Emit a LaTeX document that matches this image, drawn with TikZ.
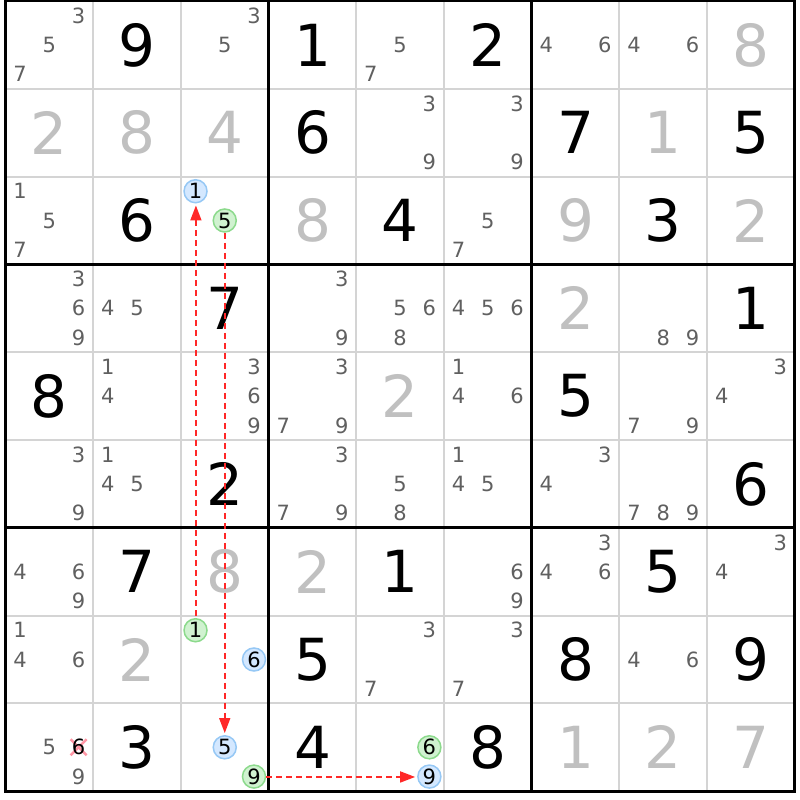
\documentclass[tikz,border=0pt]{standalone}
\usepackage{fontspec}
\setmainfont{DejaVu Sans}
\usetikzlibrary{arrows.meta}
\definecolor{candc}{RGB}{96,96,96}
\definecolor{solvedc}{RGB}{192,192,192}
\definecolor{thinc}{RGB}{212,212,212}
\definecolor{bluef}{RGB}{212,232,255}
\definecolor{blued}{RGB}{150,200,245}
\definecolor{greenf}{RGB}{208,242,208}
\definecolor{greend}{RGB}{140,218,140}
\definecolor{arrc}{RGB}{255,40,40}
\definecolor{crossc}{RGB}{255,150,165}
\newcommand\sdkPos[3]{%
  \pgfmathsetmacro\xx{5.5+87.7*(#2-1)+87.7*(2*mod(#3-1,3)+1)/6}%
  \pgfmathsetmacro\yy{1+87.8*(#1-1)+87.8*(2*floor((#3-1)/3)+1)/6}}
\newcommand\sdkCands[3]{\foreach \k in {#3}{\sdkPos{#1}{#2}{\k}\node[cand] (c#1#2\k) at (\xx,\yy) {\k};}}
\newcommand\sdkGiven[3]{\node[given] (g#1#2) at ({5.5+87.7*(#2-0.5)},{1+87.8*(#1-0.5)}) {#3};}
\newcommand\sdkSolved[3]{\node[given,text=solvedc] (s#1#2) at ({5.5+87.7*(#2-0.5)},{1+87.8*(#1-0.5)}) {#3};}
\newcommand\sdkCirc[5]{\sdkPos{#1}{#2}{#3}\node[cand,circ,#4] (#5) at (\xx,\yy) {#3};}
\begin{document}
\begin{tikzpicture}[x=1pt,y=-1pt,
  cand/.style={font=\fontsize{21}{21}\selectfont,text=candc,inner sep=0pt},
  given/.style={font=\fontsize{58}{58}\selectfont,text=black,inner sep=0pt},
  circ/.style={circle,inner sep=0pt,minimum size=23pt,line width=1.5pt,text=black},
  bluec/.style={fill=bluef,draw=blued},
  greenc/.style={fill=greenf,draw=greend},
  thinline/.style={draw=thinc,line width=2pt},
  thickline/.style={draw=black,line width=3pt},
  arrline/.style={color=arrc,line width=1.7pt,dash pattern=on 6pt off 4pt},
  arr/.style={arrline,-{Triangle[length=15pt,width=11pt]},shorten >=2pt},
  arrback/.style={arrline,{Triangle[length=15pt,width=11pt]}-,shorten <=2pt},
  crossln/.style={draw=crossc,line width=2.5pt}]
\useasboundingbox (0,0) rectangle (800,800);
\fill[white] (0,0) rectangle (800,800);
% grid
\foreach \i in {1,2,4,5,7,8}{
  \draw[thinline] ({5.5+87.7*\i},1) -- ({5.5+87.7*\i},791.2);
  \draw[thinline] (5.5,{1+87.8*\i}) -- (794.8,{1+87.8*\i});
}
\foreach \i in {3,6}{
  \draw[thickline] ({5.5+87.7*\i},1) -- ({5.5+87.7*\i},791.2);
  \draw[thickline] (5.5,{1+87.8*\i}) -- (794.8,{1+87.8*\i});
}
\draw[thickline] (5.5,1) rectangle (794.8,791.2);
% given digits
\sdkGiven{1}{2}{9}\sdkGiven{1}{4}{1}\sdkGiven{1}{6}{2}
\sdkGiven{2}{4}{6}\sdkGiven{2}{7}{7}\sdkGiven{2}{9}{5}
\sdkGiven{3}{2}{6}\sdkGiven{3}{5}{4}\sdkGiven{3}{8}{3}
\sdkGiven{4}{3}{7}\sdkGiven{4}{9}{1}
\sdkGiven{5}{1}{8}\sdkGiven{5}{7}{5}
\sdkGiven{6}{3}{2}\sdkGiven{6}{9}{6}
\sdkGiven{7}{2}{7}\sdkGiven{7}{5}{1}\sdkGiven{7}{8}{5}
\sdkGiven{8}{4}{5}\sdkGiven{8}{7}{8}\sdkGiven{8}{9}{9}
\sdkGiven{9}{2}{3}\sdkGiven{9}{4}{4}\sdkGiven{9}{6}{8}
% solved digits
\sdkSolved{1}{9}{8}
\sdkSolved{2}{1}{2}\sdkSolved{2}{2}{8}\sdkSolved{2}{3}{4}\sdkSolved{2}{8}{1}
\sdkSolved{3}{4}{8}\sdkSolved{3}{7}{9}\sdkSolved{3}{9}{2}
\sdkSolved{4}{7}{2}
\sdkSolved{5}{5}{2}
\sdkSolved{7}{3}{8}\sdkSolved{7}{4}{2}
\sdkSolved{8}{2}{2}
\sdkSolved{9}{7}{1}\sdkSolved{9}{8}{2}\sdkSolved{9}{9}{7}
% candidates
\sdkCands{1}{1}{3,5,7}\sdkCands{1}{3}{3,5}\sdkCands{1}{5}{5,7}\sdkCands{1}{7}{4,6}\sdkCands{1}{8}{4,6}
\sdkCands{2}{5}{3,9}\sdkCands{2}{6}{3,9}
\sdkCands{3}{1}{1,5,7}\sdkCands{3}{6}{5,7}
\sdkCands{4}{1}{3,6,9}\sdkCands{4}{2}{4,5}\sdkCands{4}{4}{3,9}\sdkCands{4}{5}{5,6,8}\sdkCands{4}{6}{4,5,6}\sdkCands{4}{8}{8,9}
\sdkCands{5}{2}{1,4}\sdkCands{5}{3}{3,6,9}\sdkCands{5}{4}{3,7,9}\sdkCands{5}{6}{1,4,6}\sdkCands{5}{8}{7,9}\sdkCands{5}{9}{3,4}
\sdkCands{6}{1}{3,9}\sdkCands{6}{2}{1,4,5}\sdkCands{6}{4}{3,7,9}\sdkCands{6}{5}{5,8}\sdkCands{6}{6}{1,4,5}\sdkCands{6}{7}{3,4}\sdkCands{6}{8}{7,8,9}
\sdkCands{7}{1}{4,6,9}\sdkCands{7}{6}{6,9}\sdkCands{7}{7}{3,4,6}\sdkCands{7}{9}{3,4}
\sdkCands{8}{1}{1,4,6}\sdkCands{8}{5}{3,7}\sdkCands{8}{6}{3,7}\sdkCands{8}{8}{4,6}
\sdkCands{9}{1}{5,9}
% eliminated candidate
\sdkPos{9}{1}{6}
\coordinate (x916) at (\xx,\yy);
\draw[crossln] ([shift={(-8,-8)}]x916) -- ([shift={(8,8)}]x916);
\draw[crossln] ([shift={(-8,8)}]x916) -- ([shift={(8,-8)}]x916);
\node[cand,text=black] (c916) at (x916) {6};
% circled candidates
\sdkCirc{3}{3}{1}{bluec}{a331}
\sdkCirc{3}{3}{5}{greenc}{a335}
\sdkCirc{8}{3}{1}{greenc}{a831}
\sdkCirc{8}{3}{6}{bluec}{a836}
\sdkCirc{9}{3}{5}{bluec}{a935}
\sdkCirc{9}{3}{9}{greenc}{a939}
\sdkCirc{9}{5}{6}{greenc}{a956}
\sdkCirc{9}{5}{9}{bluec}{a959}
% arrows
\draw[arrback] ([xshift=0.4pt]a331.south) -- ([xshift=0.4pt]a831.north);
\draw[arr] (a335) -- (a935);
\draw[arr] ([yshift=-0.4pt]a939.east) -- ([yshift=-0.4pt]a959.west);
\end{tikzpicture}
\end{document}
